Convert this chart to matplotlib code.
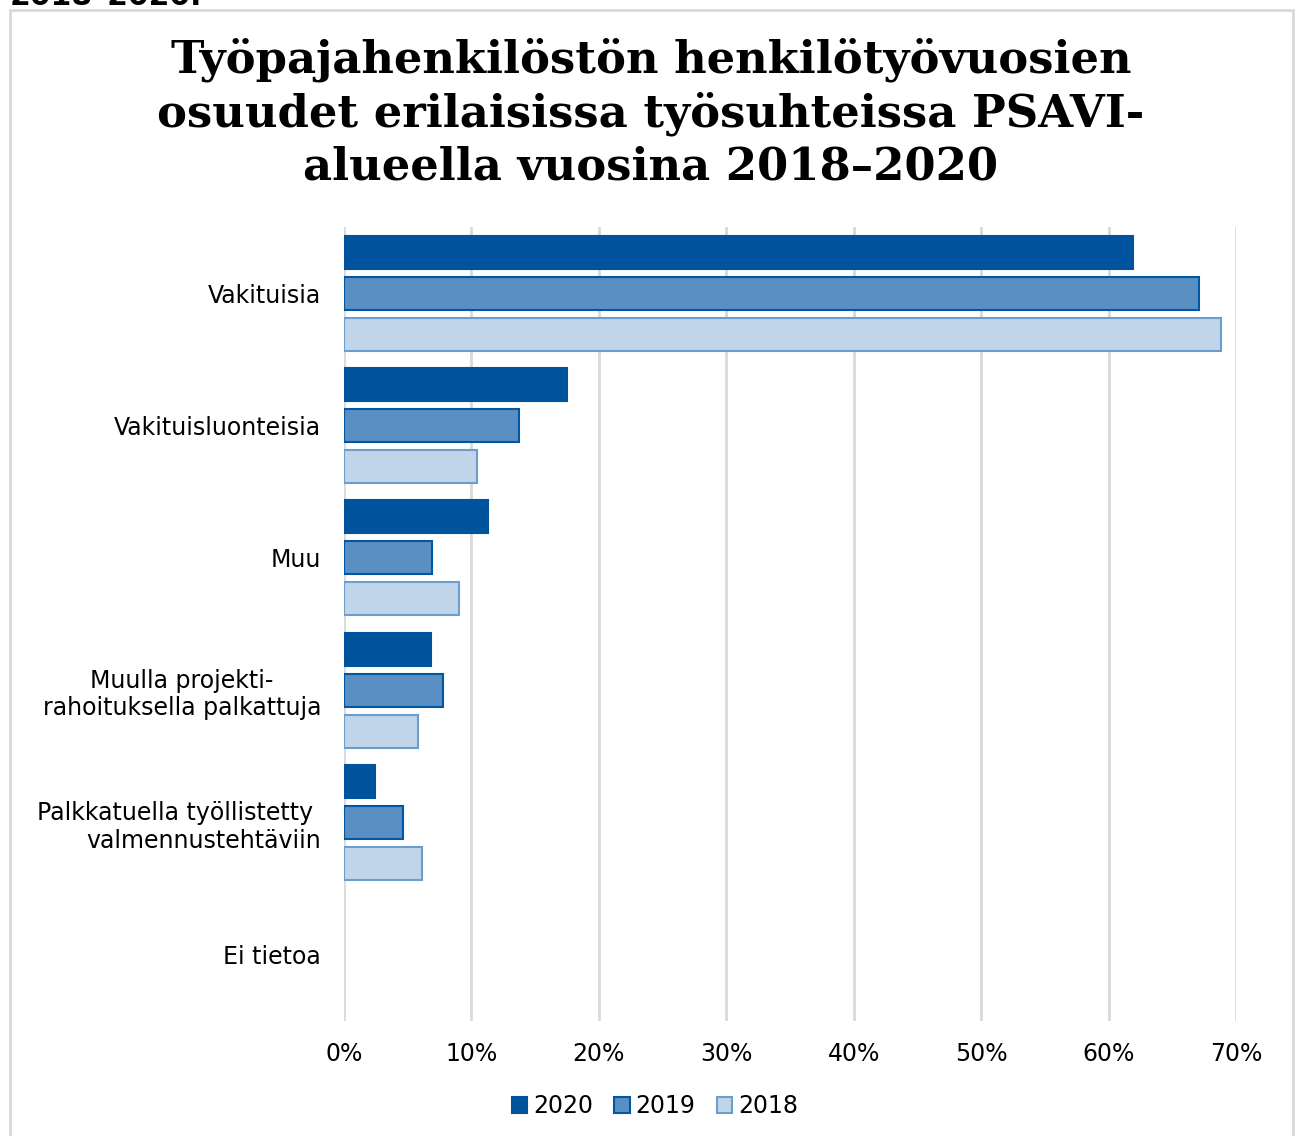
import matplotlib
matplotlib.use("Agg")
import matplotlib.pyplot as plt
from matplotlib.patches import Patch, Rectangle
import numpy as np

plt.rcParams["font.family"] = ["DejaVu Sans"]

categories = ["Vakituisia", "Vakituisluonteisia", "Muu",
              "Muulla projekti-\nrahoituksella palkattuja",
              "Palkkatuella työllistetty \nvalmennustehtäviin",
              "Ei tietoa"]
series_names = ["2020", "2019", "2018"]
v2020 = [61.9, 17.5, 11.3, 6.8, 2.4, 0.0]
v2019 = [67.1, 13.7, 6.9, 7.8, 4.6, 0.0]
v2018 = [68.8, 10.4, 9.0, 5.8, 6.1, 0.0]
xticks = [0, 10, 20, 30, 40, 50, 60, 70]
xticklabels = ["0%", "10%", "20%", "30%", "40%", "50%", "60%", "70%"]
title = "Työpajahenkilöstön henkilötyövuosien\nosuudet erilaisissa työsuhteissa PSAVI-\nalueella vuosina 2018–2020"

W, H = 1300, 1136
fig = plt.figure(figsize=(W/100, H/100), dpi=100)
fig.patch.set_facecolor("white")

# outer frame
fig.patches.append(Rectangle((10/W, -0.05), (1293-10)/W, 1.05 - 10/H,
                             transform=fig.transFigure, fill=False,
                             edgecolor="#D9D9D9", lw=2, zorder=0))
# cut-off caption line above the frame
fig.text(10/W, 1 - 5/H, "2018–2020.", fontsize=21.5, fontweight="bold",
         va="baseline", ha="left", family="DejaVu Sans")

ax = fig.add_axes([344/W, 115/H, (1236-344)/W, (1021-227)/H])

fills = ["#00549E", "#5A8FC4", "#C0D5E9"]
edges = ["#00549E", "#0057A3", "#6C9DCF"]
data = [v2020, v2019, v2018]
offsets = [-0.31, 0.0, 0.31]
y = np.arange(len(categories))
for vals, fc, ec, off, name in zip(data, fills, edges, offsets, series_names):
    bars = ax.barh(y + off, vals, height=0.25, color=fc, edgecolor=ec, linewidth=1.5,
                   label=name, zorder=3)
    for b, v in zip(bars, vals):
        if v == 0:
            b.set_visible(False)

ax.set_xlim(0, 70)
ax.set_ylim(len(categories) - 0.5, -0.5)
ax.set_xticks(xticks)
ax.set_xticklabels(xticklabels, fontsize=17, family="DejaVu Sans")
ax.set_yticks(y)
ax.set_yticklabels(categories, fontsize=17, linespacing=1.2, family="DejaVu Sans")
for lbl in ax.get_yticklabels():
    lbl.set_multialignment("right")
ax.get_yticklabels()[3].set_multialignment("center")
ax.tick_params(axis="both", length=0)
ax.tick_params(axis="y", pad=16.5)
ax.tick_params(axis="x", pad=15)
for s in ax.spines.values():
    s.set_visible(False)
ax.grid(axis="x", color="#D9D9D9", linewidth=2, zorder=0)
ax.set_axisbelow(True)

fig.text(651/W, 1 - 38/H, title, ha="center", va="top",
         fontsize=32.3, fontweight="bold", family="DejaVu Serif",
         linespacing=1.27)

handles = [Patch(facecolor=fc, edgecolor=ec, linewidth=1.5) for fc, ec in zip(fills, edges)]
fig.legend(handles, series_names, loc="center", bbox_to_anchor=(655/W, 1 - 1106/H),
           ncol=3, frameon=False, prop={"family": "DejaVu Sans", "size": 17},
           handlelength=0.65, handleheight=0.65,
           handletextpad=0.25, columnspacing=0.9)

fig.savefig("out.png", dpi=100)
